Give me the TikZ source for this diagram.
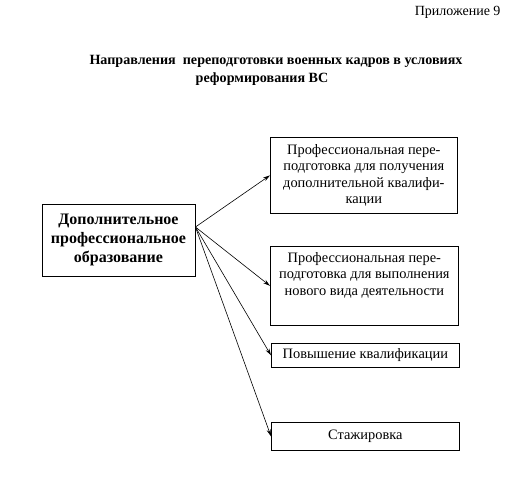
\documentclass[tikz,border=0pt]{standalone}
\usepackage{fontspec}
\setmainfont{Liberation Serif}
\usetikzlibrary{positioning, arrows.meta}

\begin{document}
\begin{tikzpicture}[x=1pt,y=-1pt,
    box/.style={
            draw,
            line width=0.7pt,
            align=center,
            inner sep=2pt,
            font=\fontsize{14.4}{16.6}\selectfont},
    link/.style={-{Stealth[length=7pt,width=4pt]},line width=0.6pt}]

\useasboundingbox (0,0) rectangle (529,493);

%Header====================================================================
\node[anchor=east,font=\fontsize{14}{16}\selectfont] (app) at (504,12) {Приложение 9};
\node[font=\bfseries\fontsize{14.1}{17}\selectfont] (title1) at (276,61) {Направления\ \ переподготовки военных кадров в условиях};
\node[font=\bfseries\fontsize{14.1}{17}\selectfont, below=-1pt of title1.south, xshift=-14pt, anchor=north] (title2) {реформирования ВС};
%=======================================================================

%Main====================================================================
\node[box,line width=0.9pt,minimum width=153pt,minimum height=72pt,font=\bfseries\fontsize{16}{19}\selectfont] (main) at (118.5,240) {Дополнительное\\профессиональное\\образование};

\node[box,minimum width=187pt,minimum height=76pt,anchor=north west] (1) at (270,137) {Профессиональная пере-\\подготовка для получения\\дополнительной квалифи-\\кации};
\node[box,minimum width=188pt,minimum height=79pt,anchor=north west,text depth=24pt] (2) at (270,246) {Профессиональная пере-\\подготовка для выполнения\\нового вида деятельности};
\node[box,minimum width=188pt,minimum height=24pt,anchor=north west] (3) at (271,343) {Повышение квалификации};
\node[box,minimum width=188pt,minimum height=28pt,anchor=north west] (4) at (271,422) {Стажировка};

\coordinate (s) at ([yshift=13pt]main.east);
%=======================================================================

\draw[link] (s)--(1.west);
\draw[link] (s)--(2.west);
\draw[link] (s)--(3.west);
\draw[link] (s)--(4.west);

\end{tikzpicture}
\end{document}
